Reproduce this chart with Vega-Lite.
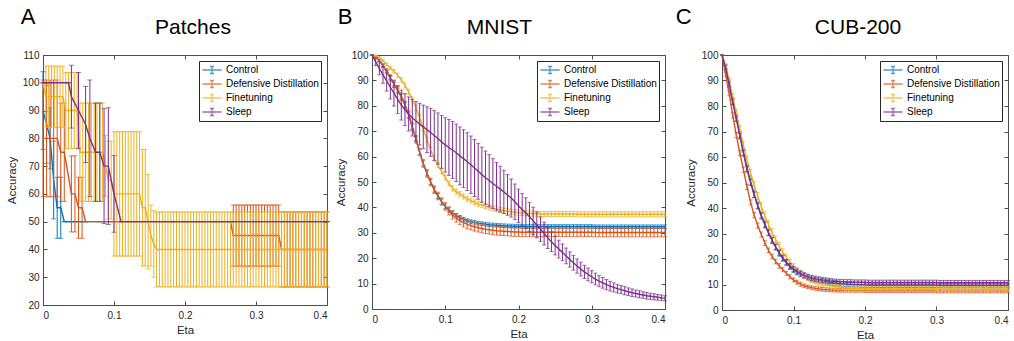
{
"$schema":"https://vega.github.io/schema/vega-lite/v6.json",
"padding":{"left":5,"top":5,"right":0,"bottom":0},
"config":{
"font":"Liberation Sans",
"view":{"stroke":"#4d4d4d","strokeWidth":1},
"axis":{"grid":false,"domainColor":"#4d4d4d","tickColor":"#4d4d4d","labelColor":"#262626","titleColor":"#262626","labelFontSize":10,"titleFontSize":11.5,"titleFontWeight":"normal","tickSize":-4,"labelFont":"Liberation Sans","titleFont":"Liberation Sans"},
"title":{"font":"Liberation Sans","fontSize":21,"fontWeight":"normal","color":"#000000","offset":12},
"line":{"strokeWidth":1.4}
},
"datasets":{
"A":[
{"s":"C","x":0,"y":90,"e":14},{"s":"C","x":0.005,"y":85,"e":14},{"s":"C","x":0.01,"y":80,"e":11},{"s":"C","x":0.015,"y":65,"e":14},{"s":"C","x":0.02,"y":55,"e":11},{"s":"C","x":0.025,"y":55,"e":11},{"s":"C","x":0.03,"y":50,"e":0},{"s":"C","x":0.035,"y":50,"e":0},{"s":"C","x":0.04,"y":50,"e":0},{"s":"C","x":0.045,"y":50,"e":0},{"s":"C","x":0.05,"y":50,"e":0},{"s":"C","x":0.055,"y":50,"e":0},{"s":"C","x":0.06,"y":50,"e":0},{"s":"C","x":0.4,"y":50,"e":0},
{"s":"D","x":0,"y":80,"e":21},{"s":"D","x":0.005,"y":80,"e":21},{"s":"D","x":0.01,"y":80,"e":21},{"s":"D","x":0.015,"y":80,"e":21},{"s":"D","x":0.02,"y":80,"e":21},{"s":"D","x":0.025,"y":75,"e":17.7},{"s":"D","x":0.03,"y":75,"e":17.7},{"s":"D","x":0.04,"y":60,"e":13.7},{"s":"D","x":0.045,"y":60,"e":13.7},{"s":"D","x":0.05,"y":55,"e":11},{"s":"D","x":0.055,"y":55,"e":11},{"s":"D","x":0.06,"y":50,"e":0},{"s":"D","x":0.08,"y":50,"e":0},{"s":"D","x":0.1,"y":50,"e":0},{"s":"D","x":0.12,"y":50,"e":0},{"s":"D","x":0.14,"y":50,"e":0},{"s":"D","x":0.16,"y":50,"e":0},{"s":"D","x":0.18,"y":50,"e":0},{"s":"D","x":0.2,"y":50,"e":0},{"s":"D","x":0.22,"y":50,"e":0},{"s":"D","x":0.24,"y":50,"e":0},{"s":"D","x":0.264,"y":50,"e":0},
{"s":"D","x":0.268,"y":45,"e":11},{"s":"D","x":0.272,"y":45,"e":11},{"s":"D","x":0.276,"y":45,"e":11},{"s":"D","x":0.28,"y":45,"e":11},{"s":"D","x":0.284,"y":45,"e":11},{"s":"D","x":0.288,"y":45,"e":11},{"s":"D","x":0.292,"y":45,"e":11},{"s":"D","x":0.296,"y":45,"e":11},{"s":"D","x":0.3,"y":45,"e":11},{"s":"D","x":0.304,"y":45,"e":11},{"s":"D","x":0.308,"y":45,"e":11},{"s":"D","x":0.312,"y":45,"e":11},{"s":"D","x":0.316,"y":45,"e":11},{"s":"D","x":0.32,"y":45,"e":11},{"s":"D","x":0.324,"y":45,"e":11},{"s":"D","x":0.328,"y":45,"e":11},{"s":"D","x":0.332,"y":45,"e":11},
{"s":"D","x":0.336,"y":40,"e":13.5},{"s":"D","x":0.34,"y":40,"e":13.5},{"s":"D","x":0.344,"y":40,"e":13.5},{"s":"D","x":0.348,"y":40,"e":13.5},{"s":"D","x":0.352,"y":40,"e":13.5},{"s":"D","x":0.356,"y":40,"e":13.5},{"s":"D","x":0.36,"y":40,"e":13.5},{"s":"D","x":0.364,"y":40,"e":13.5},{"s":"D","x":0.368,"y":40,"e":13.5},{"s":"D","x":0.372,"y":40,"e":13.5},{"s":"D","x":0.376,"y":40,"e":13.5},{"s":"D","x":0.38,"y":40,"e":13.5},{"s":"D","x":0.384,"y":40,"e":13.5},{"s":"D","x":0.388,"y":40,"e":13.5},{"s":"D","x":0.392,"y":40,"e":13.5},{"s":"D","x":0.396,"y":40,"e":13.5},{"s":"D","x":0.4,"y":40,"e":13.5},
{"s":"F","x":0,"y":100,"e":0},{"s":"F","x":0.004,"y":95,"e":11},{"s":"F","x":0.008,"y":95,"e":11},{"s":"F","x":0.012,"y":95,"e":11},{"s":"F","x":0.016,"y":95,"e":11},{"s":"F","x":0.02,"y":95,"e":11},{"s":"F","x":0.024,"y":95,"e":11},{"s":"F","x":0.028,"y":95,"e":11},
{"s":"F","x":0.032,"y":90,"e":13.7},{"s":"F","x":0.036,"y":90,"e":13.7},{"s":"F","x":0.04,"y":90,"e":13.7},{"s":"F","x":0.044,"y":90,"e":13.7},{"s":"F","x":0.048,"y":90,"e":13.7},
{"s":"F","x":0.052,"y":75,"e":17.7},{"s":"F","x":0.056,"y":75,"e":17.7},{"s":"F","x":0.06,"y":75,"e":17.7},{"s":"F","x":0.064,"y":75,"e":17.7},{"s":"F","x":0.068,"y":75,"e":17.7},{"s":"F","x":0.072,"y":75,"e":17.7},{"s":"F","x":0.076,"y":75,"e":17.7},{"s":"F","x":0.08,"y":75,"e":17.7},{"s":"F","x":0.084,"y":75,"e":17.7},
{"s":"F","x":0.088,"y":70,"e":11},{"s":"F","x":0.092,"y":65,"e":14},{"s":"F","x":0.096,"y":65,"e":14},
{"s":"F","x":0.1,"y":60,"e":22.4},{"s":"F","x":0.104,"y":60,"e":22.4},{"s":"F","x":0.108,"y":60,"e":22.4},{"s":"F","x":0.112,"y":60,"e":22.4},{"s":"F","x":0.116,"y":60,"e":22.4},{"s":"F","x":0.12,"y":60,"e":22.4},{"s":"F","x":0.124,"y":60,"e":22.4},{"s":"F","x":0.128,"y":60,"e":22.4},{"s":"F","x":0.132,"y":60,"e":22.4},{"s":"F","x":0.136,"y":60,"e":22.4},
{"s":"F","x":0.14,"y":55,"e":21},{"s":"F","x":0.144,"y":55,"e":21},{"s":"F","x":0.148,"y":50,"e":17},{"s":"F","x":0.152,"y":45,"e":11},{"s":"F","x":0.156,"y":42,"e":12},
{"s":"F","x":0.16,"y":40,"e":13.5},{"s":"F","x":0.164,"y":40,"e":13.5},{"s":"F","x":0.168,"y":40,"e":13.5},{"s":"F","x":0.172,"y":40,"e":13.5},{"s":"F","x":0.176,"y":40,"e":13.5},{"s":"F","x":0.18,"y":40,"e":13.5},{"s":"F","x":0.184,"y":40,"e":13.5},{"s":"F","x":0.188,"y":40,"e":13.5},{"s":"F","x":0.192,"y":40,"e":13.5},{"s":"F","x":0.196,"y":40,"e":13.5},{"s":"F","x":0.2,"y":40,"e":13.5},{"s":"F","x":0.204,"y":40,"e":13.5},{"s":"F","x":0.208,"y":40,"e":13.5},{"s":"F","x":0.212,"y":40,"e":13.5},{"s":"F","x":0.216,"y":40,"e":13.5},{"s":"F","x":0.22,"y":40,"e":13.5},{"s":"F","x":0.224,"y":40,"e":13.5},{"s":"F","x":0.228,"y":40,"e":13.5},{"s":"F","x":0.232,"y":40,"e":13.5},{"s":"F","x":0.236,"y":40,"e":13.5},{"s":"F","x":0.24,"y":40,"e":13.5},{"s":"F","x":0.244,"y":40,"e":13.5},{"s":"F","x":0.248,"y":40,"e":13.5},{"s":"F","x":0.252,"y":40,"e":13.5},{"s":"F","x":0.256,"y":40,"e":13.5},{"s":"F","x":0.26,"y":40,"e":13.5},{"s":"F","x":0.264,"y":40,"e":13.5},{"s":"F","x":0.268,"y":40,"e":13.5},{"s":"F","x":0.272,"y":40,"e":13.5},{"s":"F","x":0.276,"y":40,"e":13.5},{"s":"F","x":0.28,"y":40,"e":13.5},{"s":"F","x":0.284,"y":40,"e":13.5},{"s":"F","x":0.288,"y":40,"e":13.5},{"s":"F","x":0.292,"y":40,"e":13.5},{"s":"F","x":0.296,"y":40,"e":13.5},{"s":"F","x":0.3,"y":40,"e":13.5},{"s":"F","x":0.304,"y":40,"e":13.5},{"s":"F","x":0.308,"y":40,"e":13.5},{"s":"F","x":0.312,"y":40,"e":13.5},{"s":"F","x":0.316,"y":40,"e":13.5},{"s":"F","x":0.32,"y":40,"e":13.5},{"s":"F","x":0.324,"y":40,"e":13.5},{"s":"F","x":0.328,"y":40,"e":13.5},{"s":"F","x":0.332,"y":40,"e":13.5},{"s":"F","x":0.336,"y":40,"e":13.5},{"s":"F","x":0.34,"y":40,"e":13.5},{"s":"F","x":0.344,"y":40,"e":13.5},{"s":"F","x":0.348,"y":40,"e":13.5},{"s":"F","x":0.352,"y":40,"e":13.5},{"s":"F","x":0.356,"y":40,"e":13.5},{"s":"F","x":0.36,"y":40,"e":13.5},{"s":"F","x":0.364,"y":40,"e":13.5},{"s":"F","x":0.368,"y":40,"e":13.5},{"s":"F","x":0.372,"y":40,"e":13.5},{"s":"F","x":0.376,"y":40,"e":13.5},{"s":"F","x":0.38,"y":40,"e":13.5},{"s":"F","x":0.384,"y":40,"e":13.5},{"s":"F","x":0.388,"y":40,"e":13.5},{"s":"F","x":0.392,"y":40,"e":13.5},{"s":"F","x":0.396,"y":40,"e":13.5},{"s":"F","x":0.4,"y":40,"e":13.5},
{"s":"S","x":0,"y":100,"e":0},{"s":"S","x":0.036,"y":100,"e":0},{"s":"S","x":0.04,"y":95,"e":11.3},{"s":"S","x":0.05,"y":90,"e":13.7},{"s":"S","x":0.06,"y":85,"e":13.7},{"s":"S","x":0.066,"y":80,"e":21},{"s":"S","x":0.074,"y":75,"e":17.7},{"s":"S","x":0.08,"y":75,"e":17.7},{"s":"S","x":0.086,"y":70,"e":20.7},{"s":"S","x":0.092,"y":70,"e":21},{"s":"S","x":0.1,"y":60,"e":13.8},{"s":"S","x":0.11,"y":50,"e":0},{"s":"S","x":0.4,"y":50,"e":0}
],
"B":[
{"s":"C","x":0,"y":100,"e":0},{"s":"C","x":0.005,"y":99.3,"e":0.2},{"s":"C","x":0.01,"y":97.8,"e":0.3},{"s":"C","x":0.015,"y":95.8,"e":0.4},{"s":"C","x":0.02,"y":93.6,"e":0.5},{"s":"C","x":0.025,"y":91,"e":0.6},{"s":"C","x":0.03,"y":88.5,"e":0.7},{"s":"C","x":0.035,"y":86.2,"e":0.8},{"s":"C","x":0.04,"y":83.6,"e":0.9},{"s":"C","x":0.045,"y":80.3,"e":1},{"s":"C","x":0.05,"y":76.5,"e":1},{"s":"C","x":0.055,"y":71.8,"e":1},{"s":"C","x":0.06,"y":66.8,"e":1},{"s":"C","x":0.065,"y":61.8,"e":1},{"s":"C","x":0.07,"y":57.3,"e":1},{"s":"C","x":0.075,"y":53.4,"e":1},{"s":"C","x":0.08,"y":50,"e":1},{"s":"C","x":0.085,"y":47,"e":1},{"s":"C","x":0.09,"y":44.5,"e":1},{"s":"C","x":0.095,"y":42.3,"e":1},{"s":"C","x":0.1,"y":40.4,"e":0.9},{"s":"C","x":0.105,"y":39,"e":0.9},{"s":"C","x":0.11,"y":37.8,"e":0.8},{"s":"C","x":0.115,"y":36.8,"e":0.8},{"s":"C","x":0.12,"y":36,"e":0.8},{"s":"C","x":0.125,"y":35.3,"e":0.8},{"s":"C","x":0.13,"y":34.8,"e":0.7},{"s":"C","x":0.135,"y":34.4,"e":0.7},{"s":"C","x":0.14,"y":34.1,"e":0.7},{"s":"C","x":0.145,"y":33.8,"e":0.7},{"s":"C","x":0.15,"y":33.6,"e":0.7},{"s":"C","x":0.155,"y":33.4,"e":0.7},{"s":"C","x":0.16,"y":33.2,"e":0.7},{"s":"C","x":0.165,"y":33.1,"e":0.7},{"s":"C","x":0.17,"y":33,"e":0.7},{"s":"C","x":0.175,"y":32.9,"e":0.7},{"s":"C","x":0.18,"y":32.8,"e":0.7},{"s":"C","x":0.185,"y":32.7,"e":0.7},{"s":"C","x":0.19,"y":32.7,"e":0.7},{"s":"C","x":0.195,"y":32.6,"e":0.7},{"s":"C","x":0.2,"y":32.6,"e":0.7},{"s":"C","x":0.205,"y":32.5,"e":0.7},{"s":"C","x":0.21,"y":32.5,"e":0.7},{"s":"C","x":0.215,"y":32.5,"e":0.7},{"s":"C","x":0.22,"y":32.5,"e":0.7},{"s":"C","x":0.225,"y":32.5,"e":0.7},{"s":"C","x":0.23,"y":32.5,"e":0.7},{"s":"C","x":0.235,"y":32.5,"e":0.7},{"s":"C","x":0.24,"y":32.5,"e":0.7},{"s":"C","x":0.245,"y":32.5,"e":0.7},{"s":"C","x":0.25,"y":32.5,"e":0.7},{"s":"C","x":0.255,"y":32.5,"e":0.7},{"s":"C","x":0.26,"y":32.5,"e":0.7},{"s":"C","x":0.265,"y":32.5,"e":0.7},{"s":"C","x":0.27,"y":32.5,"e":0.7},{"s":"C","x":0.275,"y":32.5,"e":0.7},{"s":"C","x":0.28,"y":32.5,"e":0.7},{"s":"C","x":0.285,"y":32.5,"e":0.7},{"s":"C","x":0.29,"y":32.5,"e":0.7},{"s":"C","x":0.295,"y":32.5,"e":0.7},{"s":"C","x":0.3,"y":32.5,"e":0.7},{"s":"C","x":0.305,"y":32.4,"e":0.7},{"s":"C","x":0.31,"y":32.4,"e":0.7},{"s":"C","x":0.315,"y":32.4,"e":0.7},{"s":"C","x":0.32,"y":32.4,"e":0.7},{"s":"C","x":0.325,"y":32.4,"e":0.7},{"s":"C","x":0.33,"y":32.4,"e":0.7},{"s":"C","x":0.335,"y":32.4,"e":0.7},{"s":"C","x":0.34,"y":32.4,"e":0.7},{"s":"C","x":0.345,"y":32.4,"e":0.7},{"s":"C","x":0.35,"y":32.4,"e":0.7},{"s":"C","x":0.355,"y":32.4,"e":0.7},{"s":"C","x":0.36,"y":32.4,"e":0.7},{"s":"C","x":0.365,"y":32.4,"e":0.7},{"s":"C","x":0.37,"y":32.4,"e":0.7},{"s":"C","x":0.375,"y":32.4,"e":0.7},{"s":"C","x":0.38,"y":32.4,"e":0.7},{"s":"C","x":0.385,"y":32.4,"e":0.7},{"s":"C","x":0.39,"y":32.4,"e":0.7},{"s":"C","x":0.395,"y":32.4,"e":0.7},{"s":"C","x":0.4,"y":32.4,"e":0.7},
{"s":"D","x":0,"y":100,"e":0},{"s":"D","x":0.005,"y":99.3,"e":0.3},{"s":"D","x":0.01,"y":97.8,"e":0.5},{"s":"D","x":0.015,"y":95.8,"e":0.8},{"s":"D","x":0.02,"y":93.6,"e":1},{"s":"D","x":0.025,"y":91,"e":1.2},{"s":"D","x":0.03,"y":88.5,"e":1.3},{"s":"D","x":0.035,"y":86.2,"e":1.4},{"s":"D","x":0.04,"y":83.6,"e":1.5},{"s":"D","x":0.045,"y":80.3,"e":1.5},{"s":"D","x":0.05,"y":76.5,"e":1.5},{"s":"D","x":0.055,"y":71.8,"e":1.5},{"s":"D","x":0.06,"y":66.8,"e":1.5},{"s":"D","x":0.065,"y":61.8,"e":1.5},{"s":"D","x":0.07,"y":57.3,"e":1.5},{"s":"D","x":0.075,"y":53.4,"e":1.5},{"s":"D","x":0.08,"y":50,"e":1.5},{"s":"D","x":0.085,"y":47,"e":1.5},{"s":"D","x":0.09,"y":44.5,"e":1.5},{"s":"D","x":0.095,"y":42.3,"e":1.5},{"s":"D","x":0.1,"y":40.4,"e":1.5},{"s":"D","x":0.105,"y":38.6,"e":1.6},{"s":"D","x":0.11,"y":37,"e":1.6},{"s":"D","x":0.115,"y":35.8,"e":1.6},{"s":"D","x":0.12,"y":34.8,"e":1.6},{"s":"D","x":0.125,"y":34,"e":1.7},{"s":"D","x":0.13,"y":33.3,"e":1.7},{"s":"D","x":0.135,"y":32.8,"e":1.7},{"s":"D","x":0.14,"y":32.4,"e":1.7},{"s":"D","x":0.145,"y":32,"e":1.7},{"s":"D","x":0.15,"y":31.7,"e":1.7},{"s":"D","x":0.155,"y":31.4,"e":1.7},{"s":"D","x":0.16,"y":31.2,"e":1.7},{"s":"D","x":0.165,"y":31,"e":1.7},{"s":"D","x":0.17,"y":30.8,"e":1.7},{"s":"D","x":0.175,"y":30.7,"e":1.7},{"s":"D","x":0.18,"y":30.6,"e":1.7},{"s":"D","x":0.185,"y":30.5,"e":1.7},{"s":"D","x":0.19,"y":30.4,"e":1.7},{"s":"D","x":0.195,"y":30.3,"e":1.7},{"s":"D","x":0.2,"y":30.3,"e":1.7},{"s":"D","x":0.205,"y":30.2,"e":1.7},{"s":"D","x":0.21,"y":30.2,"e":1.7},{"s":"D","x":0.215,"y":30.2,"e":1.7},{"s":"D","x":0.22,"y":30.2,"e":1.7},{"s":"D","x":0.225,"y":30.2,"e":1.7},{"s":"D","x":0.23,"y":30.2,"e":1.7},{"s":"D","x":0.235,"y":30.2,"e":1.7},{"s":"D","x":0.24,"y":30.2,"e":1.7},{"s":"D","x":0.245,"y":30.2,"e":1.7},{"s":"D","x":0.25,"y":30.2,"e":1.7},{"s":"D","x":0.255,"y":30.2,"e":1.7},{"s":"D","x":0.26,"y":30.2,"e":1.7},{"s":"D","x":0.265,"y":30.2,"e":1.7},{"s":"D","x":0.27,"y":30.2,"e":1.7},{"s":"D","x":0.275,"y":30.2,"e":1.7},{"s":"D","x":0.28,"y":30.2,"e":1.7},{"s":"D","x":0.285,"y":30.2,"e":1.7},{"s":"D","x":0.29,"y":30.2,"e":1.7},{"s":"D","x":0.295,"y":30.2,"e":1.7},{"s":"D","x":0.3,"y":30.2,"e":1.7},{"s":"D","x":0.305,"y":30.1,"e":1.7},{"s":"D","x":0.31,"y":30.1,"e":1.7},{"s":"D","x":0.315,"y":30.1,"e":1.7},{"s":"D","x":0.32,"y":30.1,"e":1.7},{"s":"D","x":0.325,"y":30.1,"e":1.7},{"s":"D","x":0.33,"y":30.1,"e":1.7},{"s":"D","x":0.335,"y":30.1,"e":1.7},{"s":"D","x":0.34,"y":30.1,"e":1.7},{"s":"D","x":0.345,"y":30.1,"e":1.7},{"s":"D","x":0.35,"y":30.1,"e":1.7},{"s":"D","x":0.355,"y":30.1,"e":1.7},{"s":"D","x":0.36,"y":30.1,"e":1.7},{"s":"D","x":0.365,"y":30.1,"e":1.7},{"s":"D","x":0.37,"y":30.1,"e":1.7},{"s":"D","x":0.375,"y":30.1,"e":1.7},{"s":"D","x":0.38,"y":30.1,"e":1.7},{"s":"D","x":0.385,"y":30.1,"e":1.7},{"s":"D","x":0.39,"y":30.1,"e":1.7},{"s":"D","x":0.395,"y":30.1,"e":1.7},{"s":"D","x":0.4,"y":30.1,"e":1.7},
{"s":"F","x":0,"y":100,"e":0},{"s":"F","x":0.005,"y":99.7,"e":0.2},{"s":"F","x":0.01,"y":99,"e":0.3},{"s":"F","x":0.015,"y":97.8,"e":0.4},{"s":"F","x":0.02,"y":96.3,"e":0.5},{"s":"F","x":0.025,"y":94.9,"e":0.6},{"s":"F","x":0.03,"y":93.6,"e":0.7},{"s":"F","x":0.035,"y":92,"e":0.8},{"s":"F","x":0.04,"y":90.2,"e":0.9},{"s":"F","x":0.045,"y":88,"e":1},{"s":"F","x":0.05,"y":85.5,"e":1},{"s":"F","x":0.055,"y":82.5,"e":1},{"s":"F","x":0.06,"y":79.3,"e":1},{"s":"F","x":0.065,"y":75.3,"e":1},{"s":"F","x":0.07,"y":71,"e":1},{"s":"F","x":0.075,"y":66.6,"e":1},{"s":"F","x":0.08,"y":62.5,"e":1},{"s":"F","x":0.085,"y":59.3,"e":1},{"s":"F","x":0.09,"y":56.6,"e":1},{"s":"F","x":0.095,"y":54.2,"e":1},{"s":"F","x":0.1,"y":51.8,"e":1},{"s":"F","x":0.105,"y":49.4,"e":1},{"s":"F","x":0.11,"y":47.5,"e":1},{"s":"F","x":0.115,"y":46.2,"e":1},{"s":"F","x":0.12,"y":45.2,"e":1},{"s":"F","x":0.125,"y":44.3,"e":1},{"s":"F","x":0.13,"y":43.4,"e":1},{"s":"F","x":0.135,"y":42.7,"e":1},{"s":"F","x":0.14,"y":42,"e":1},{"s":"F","x":0.145,"y":41.4,"e":1},{"s":"F","x":0.15,"y":40.9,"e":1},{"s":"F","x":0.155,"y":40.4,"e":1},{"s":"F","x":0.16,"y":40,"e":1},{"s":"F","x":0.165,"y":39.6,"e":1},{"s":"F","x":0.17,"y":39.3,"e":1},{"s":"F","x":0.175,"y":39,"e":1},{"s":"F","x":0.18,"y":38.7,"e":1},{"s":"F","x":0.185,"y":38.5,"e":1},{"s":"F","x":0.19,"y":38.3,"e":1},{"s":"F","x":0.195,"y":38.1,"e":1},{"s":"F","x":0.2,"y":37.9,"e":1},{"s":"F","x":0.205,"y":37.8,"e":1},{"s":"F","x":0.21,"y":37.7,"e":1},{"s":"F","x":0.215,"y":37.6,"e":1},{"s":"F","x":0.22,"y":37.6,"e":1},{"s":"F","x":0.225,"y":37.5,"e":1},{"s":"F","x":0.23,"y":37.4,"e":1},{"s":"F","x":0.235,"y":37.4,"e":1},{"s":"F","x":0.24,"y":37.4,"e":1},{"s":"F","x":0.245,"y":37.4,"e":1},{"s":"F","x":0.25,"y":37.4,"e":1},{"s":"F","x":0.255,"y":37.4,"e":1},{"s":"F","x":0.26,"y":37.4,"e":1},{"s":"F","x":0.265,"y":37.4,"e":1},{"s":"F","x":0.27,"y":37.4,"e":1},{"s":"F","x":0.275,"y":37.4,"e":1},{"s":"F","x":0.28,"y":37.3,"e":1},{"s":"F","x":0.285,"y":37.3,"e":1},{"s":"F","x":0.29,"y":37.3,"e":1},{"s":"F","x":0.295,"y":37.3,"e":1},{"s":"F","x":0.3,"y":37.3,"e":1},{"s":"F","x":0.305,"y":37.3,"e":1},{"s":"F","x":0.31,"y":37.3,"e":1},{"s":"F","x":0.315,"y":37.3,"e":1},{"s":"F","x":0.32,"y":37.3,"e":1},{"s":"F","x":0.325,"y":37.3,"e":1},{"s":"F","x":0.33,"y":37.3,"e":1},{"s":"F","x":0.335,"y":37.3,"e":1},{"s":"F","x":0.34,"y":37.3,"e":1},{"s":"F","x":0.345,"y":37.3,"e":1},{"s":"F","x":0.35,"y":37.3,"e":1},{"s":"F","x":0.355,"y":37.3,"e":1},{"s":"F","x":0.36,"y":37.3,"e":1},{"s":"F","x":0.365,"y":37.3,"e":1},{"s":"F","x":0.37,"y":37.3,"e":1},{"s":"F","x":0.375,"y":37.3,"e":1},{"s":"F","x":0.38,"y":37.3,"e":1},{"s":"F","x":0.385,"y":37.3,"e":1},{"s":"F","x":0.39,"y":37.3,"e":1},{"s":"F","x":0.395,"y":37.3,"e":1},{"s":"F","x":0.4,"y":37.3,"e":1},
{"s":"S","x":0,"y":100,"e":0},{"s":"S","x":0.005,"y":97.3,"e":1.5},{"s":"S","x":0.01,"y":94.7,"e":2.5},{"s":"S","x":0.015,"y":92.2,"e":3.3},{"s":"S","x":0.02,"y":89.8,"e":4},{"s":"S","x":0.025,"y":87.3,"e":4.6},{"s":"S","x":0.03,"y":85,"e":5.1},{"s":"S","x":0.035,"y":82.5,"e":5.5},{"s":"S","x":0.04,"y":80.3,"e":5.9},{"s":"S","x":0.045,"y":78.5,"e":6.3},{"s":"S","x":0.05,"y":76.8,"e":6.7},{"s":"S","x":0.055,"y":75.3,"e":7.2},{"s":"S","x":0.06,"y":74,"e":7.7},{"s":"S","x":0.065,"y":72.8,"e":8.2},{"s":"S","x":0.07,"y":71.7,"e":8.6},{"s":"S","x":0.075,"y":70.6,"e":9},{"s":"S","x":0.08,"y":69.5,"e":9.4},{"s":"S","x":0.085,"y":68.3,"e":9.8},{"s":"S","x":0.09,"y":67.1,"e":10.1},{"s":"S","x":0.095,"y":65.8,"e":10.4},{"s":"S","x":0.1,"y":64.6,"e":10.7},{"s":"S","x":0.105,"y":63.6,"e":11},{"s":"S","x":0.11,"y":62.6,"e":11.2},{"s":"S","x":0.115,"y":61.5,"e":11.3},{"s":"S","x":0.12,"y":60.3,"e":11.4},{"s":"S","x":0.125,"y":59.2,"e":11.4},{"s":"S","x":0.13,"y":58,"e":11.4},{"s":"S","x":0.135,"y":56.8,"e":11.3},{"s":"S","x":0.14,"y":55.5,"e":11.2},{"s":"S","x":0.145,"y":54.2,"e":11},{"s":"S","x":0.15,"y":52.9,"e":10.8},{"s":"S","x":0.155,"y":51.7,"e":10.5},{"s":"S","x":0.16,"y":50.6,"e":10.2},{"s":"S","x":0.165,"y":49.4,"e":9.8},{"s":"S","x":0.17,"y":48.3,"e":9.4},{"s":"S","x":0.175,"y":47.2,"e":9},{"s":"S","x":0.18,"y":46.1,"e":8.5},{"s":"S","x":0.185,"y":44.9,"e":8},{"s":"S","x":0.19,"y":43.7,"e":7.5},{"s":"S","x":0.195,"y":42.2,"e":7},{"s":"S","x":0.2,"y":40.6,"e":6.6},{"s":"S","x":0.205,"y":39.2,"e":6.3},{"s":"S","x":0.21,"y":37.8,"e":6},{"s":"S","x":0.215,"y":36.3,"e":5.7},{"s":"S","x":0.22,"y":34.7,"e":5.4},{"s":"S","x":0.225,"y":33.1,"e":5.1},{"s":"S","x":0.23,"y":31.4,"e":4.8},{"s":"S","x":0.235,"y":29.7,"e":4.5},{"s":"S","x":0.24,"y":28,"e":4.2},{"s":"S","x":0.245,"y":26.5,"e":3.9},{"s":"S","x":0.25,"y":25,"e":3.7},{"s":"S","x":0.255,"y":23.6,"e":3.5},{"s":"S","x":0.26,"y":22.3,"e":3.3},{"s":"S","x":0.265,"y":20.9,"e":3.1},{"s":"S","x":0.27,"y":19.5,"e":3},{"s":"S","x":0.275,"y":18.2,"e":2.9},{"s":"S","x":0.28,"y":16.9,"e":2.8},{"s":"S","x":0.285,"y":15.7,"e":2.7},{"s":"S","x":0.29,"y":14.6,"e":2.6},{"s":"S","x":0.295,"y":13.6,"e":2.5},{"s":"S","x":0.3,"y":12.7,"e":2.4},{"s":"S","x":0.305,"y":11.8,"e":2.3},{"s":"S","x":0.31,"y":11,"e":2.2},{"s":"S","x":0.315,"y":10.3,"e":2.1},{"s":"S","x":0.32,"y":9.6,"e":2},{"s":"S","x":0.325,"y":9,"e":1.9},{"s":"S","x":0.33,"y":8.5,"e":1.8},{"s":"S","x":0.335,"y":8,"e":1.7},{"s":"S","x":0.34,"y":7.6,"e":1.6},{"s":"S","x":0.345,"y":7.2,"e":1.6},{"s":"S","x":0.35,"y":6.8,"e":1.5},{"s":"S","x":0.355,"y":6.4,"e":1.5},{"s":"S","x":0.36,"y":6.1,"e":1.4},{"s":"S","x":0.365,"y":5.8,"e":1.4},{"s":"S","x":0.37,"y":5.5,"e":1.3},{"s":"S","x":0.375,"y":5.2,"e":1.3},{"s":"S","x":0.38,"y":5,"e":1.2},{"s":"S","x":0.385,"y":4.8,"e":1.2},{"s":"S","x":0.39,"y":4.6,"e":1.1},{"s":"S","x":0.395,"y":4.4,"e":1.1},{"s":"S","x":0.4,"y":4.2,"e":1}
],
"C":[
{"s":"C","x":0,"y":100,"e":0},{"s":"C","x":0.005,"y":95.5,"e":0.8},{"s":"C","x":0.01,"y":89,"e":1.2},{"s":"C","x":0.015,"y":82,"e":1.3},{"s":"C","x":0.02,"y":75.5,"e":1.3},{"s":"C","x":0.025,"y":68.7,"e":1.3},{"s":"C","x":0.03,"y":61.9,"e":1.3},{"s":"C","x":0.035,"y":55.5,"e":1.3},{"s":"C","x":0.04,"y":50.2,"e":1.3},{"s":"C","x":0.045,"y":45.4,"e":1.3},{"s":"C","x":0.05,"y":41.1,"e":1.2},{"s":"C","x":0.055,"y":37.2,"e":1.2},{"s":"C","x":0.06,"y":33.7,"e":1.2},{"s":"C","x":0.065,"y":30.5,"e":1.2},{"s":"C","x":0.07,"y":27.4,"e":1.2},{"s":"C","x":0.075,"y":24.6,"e":1.1},{"s":"C","x":0.08,"y":22.2,"e":1.1},{"s":"C","x":0.085,"y":20.2,"e":1.1},{"s":"C","x":0.09,"y":18.4,"e":1},{"s":"C","x":0.095,"y":16.9,"e":1},{"s":"C","x":0.1,"y":15.7,"e":1},{"s":"C","x":0.105,"y":14.8,"e":1},{"s":"C","x":0.11,"y":14,"e":1},{"s":"C","x":0.115,"y":13.4,"e":1},{"s":"C","x":0.12,"y":12.8,"e":1},{"s":"C","x":0.125,"y":12.3,"e":1},{"s":"C","x":0.13,"y":11.9,"e":1},{"s":"C","x":0.135,"y":11.6,"e":1},{"s":"C","x":0.14,"y":11.3,"e":1},{"s":"C","x":0.145,"y":11.1,"e":1},{"s":"C","x":0.15,"y":10.9,"e":1},{"s":"C","x":0.155,"y":10.7,"e":1},{"s":"C","x":0.16,"y":10.5,"e":1},{"s":"C","x":0.165,"y":10.3,"e":0.9},{"s":"C","x":0.17,"y":10.2,"e":0.9},{"s":"C","x":0.175,"y":10.1,"e":0.9},{"s":"C","x":0.18,"y":10,"e":0.9},{"s":"C","x":0.185,"y":9.9,"e":0.9},{"s":"C","x":0.19,"y":9.9,"e":0.9},{"s":"C","x":0.195,"y":9.8,"e":0.9},{"s":"C","x":0.2,"y":9.8,"e":0.9},{"s":"C","x":0.205,"y":9.7,"e":0.9},{"s":"C","x":0.21,"y":9.7,"e":0.9},{"s":"C","x":0.215,"y":9.7,"e":0.9},{"s":"C","x":0.22,"y":9.7,"e":0.9},{"s":"C","x":0.225,"y":9.7,"e":0.9},{"s":"C","x":0.23,"y":9.7,"e":0.9},{"s":"C","x":0.235,"y":9.7,"e":0.9},{"s":"C","x":0.24,"y":9.7,"e":0.9},{"s":"C","x":0.245,"y":9.7,"e":0.9},{"s":"C","x":0.25,"y":9.7,"e":0.9},{"s":"C","x":0.255,"y":9.7,"e":0.9},{"s":"C","x":0.26,"y":9.7,"e":0.9},{"s":"C","x":0.265,"y":9.7,"e":0.9},{"s":"C","x":0.27,"y":9.7,"e":0.9},{"s":"C","x":0.275,"y":9.7,"e":0.9},{"s":"C","x":0.28,"y":9.7,"e":0.9},{"s":"C","x":0.285,"y":9.7,"e":0.9},{"s":"C","x":0.29,"y":9.7,"e":0.9},{"s":"C","x":0.295,"y":9.7,"e":0.9},{"s":"C","x":0.3,"y":9.7,"e":0.9},{"s":"C","x":0.305,"y":9.6,"e":0.9},{"s":"C","x":0.31,"y":9.6,"e":0.9},{"s":"C","x":0.315,"y":9.6,"e":0.9},{"s":"C","x":0.32,"y":9.6,"e":0.9},{"s":"C","x":0.325,"y":9.6,"e":0.9},{"s":"C","x":0.33,"y":9.6,"e":0.9},{"s":"C","x":0.335,"y":9.6,"e":0.9},{"s":"C","x":0.34,"y":9.6,"e":0.9},{"s":"C","x":0.345,"y":9.6,"e":0.9},{"s":"C","x":0.35,"y":9.6,"e":0.9},{"s":"C","x":0.355,"y":9.6,"e":0.9},{"s":"C","x":0.36,"y":9.6,"e":0.9},{"s":"C","x":0.365,"y":9.6,"e":0.9},{"s":"C","x":0.37,"y":9.6,"e":0.9},{"s":"C","x":0.375,"y":9.6,"e":0.9},{"s":"C","x":0.38,"y":9.6,"e":0.9},{"s":"C","x":0.385,"y":9.6,"e":0.9},{"s":"C","x":0.39,"y":9.6,"e":0.9},{"s":"C","x":0.395,"y":9.6,"e":0.9},{"s":"C","x":0.4,"y":9.6,"e":0.9},
{"s":"D","x":0,"y":100,"e":0},{"s":"D","x":0.005,"y":92.5,"e":0.8},{"s":"D","x":0.01,"y":85,"e":1},{"s":"D","x":0.015,"y":76.3,"e":1},{"s":"D","x":0.02,"y":68.6,"e":1},{"s":"D","x":0.025,"y":61.5,"e":1},{"s":"D","x":0.03,"y":55,"e":1},{"s":"D","x":0.035,"y":48.3,"e":1},{"s":"D","x":0.04,"y":42.2,"e":1},{"s":"D","x":0.045,"y":37.2,"e":1},{"s":"D","x":0.05,"y":33.1,"e":1},{"s":"D","x":0.055,"y":29.6,"e":1},{"s":"D","x":0.06,"y":26.3,"e":1},{"s":"D","x":0.065,"y":23.4,"e":0.9},{"s":"D","x":0.07,"y":21,"e":0.9},{"s":"D","x":0.075,"y":19,"e":0.9},{"s":"D","x":0.08,"y":17.3,"e":0.9},{"s":"D","x":0.085,"y":15.8,"e":0.8},{"s":"D","x":0.09,"y":14.4,"e":0.8},{"s":"D","x":0.095,"y":13,"e":0.8},{"s":"D","x":0.1,"y":11.8,"e":0.8},{"s":"D","x":0.105,"y":10.9,"e":0.8},{"s":"D","x":0.11,"y":10.1,"e":0.8},{"s":"D","x":0.115,"y":9.5,"e":0.7},{"s":"D","x":0.12,"y":9.1,"e":0.7},{"s":"D","x":0.125,"y":8.8,"e":0.7},{"s":"D","x":0.13,"y":8.5,"e":0.7},{"s":"D","x":0.135,"y":8.3,"e":0.7},{"s":"D","x":0.14,"y":8.1,"e":0.7},{"s":"D","x":0.145,"y":8,"e":0.7},{"s":"D","x":0.15,"y":7.9,"e":0.7},{"s":"D","x":0.155,"y":7.8,"e":0.7},{"s":"D","x":0.16,"y":7.8,"e":0.7},{"s":"D","x":0.165,"y":7.7,"e":0.7},{"s":"D","x":0.17,"y":7.7,"e":0.7},{"s":"D","x":0.175,"y":7.7,"e":0.7},{"s":"D","x":0.18,"y":7.7,"e":0.7},{"s":"D","x":0.185,"y":7.7,"e":0.7},{"s":"D","x":0.19,"y":7.7,"e":0.7},{"s":"D","x":0.195,"y":7.7,"e":0.7},{"s":"D","x":0.2,"y":7.6,"e":0.7},{"s":"D","x":0.205,"y":7.5,"e":0.7},{"s":"D","x":0.21,"y":7.5,"e":0.7},{"s":"D","x":0.215,"y":7.5,"e":0.7},{"s":"D","x":0.22,"y":7.5,"e":0.7},{"s":"D","x":0.225,"y":7.5,"e":0.7},{"s":"D","x":0.23,"y":7.5,"e":0.7},{"s":"D","x":0.235,"y":7.5,"e":0.7},{"s":"D","x":0.24,"y":7.5,"e":0.7},{"s":"D","x":0.245,"y":7.5,"e":0.7},{"s":"D","x":0.25,"y":7.5,"e":0.7},{"s":"D","x":0.255,"y":7.5,"e":0.7},{"s":"D","x":0.26,"y":7.5,"e":0.7},{"s":"D","x":0.265,"y":7.5,"e":0.7},{"s":"D","x":0.27,"y":7.5,"e":0.7},{"s":"D","x":0.275,"y":7.5,"e":0.7},{"s":"D","x":0.28,"y":7.5,"e":0.7},{"s":"D","x":0.285,"y":7.5,"e":0.7},{"s":"D","x":0.29,"y":7.5,"e":0.7},{"s":"D","x":0.295,"y":7.5,"e":0.7},{"s":"D","x":0.3,"y":7.4,"e":0.7},{"s":"D","x":0.305,"y":7.4,"e":0.7},{"s":"D","x":0.31,"y":7.4,"e":0.7},{"s":"D","x":0.315,"y":7.4,"e":0.7},{"s":"D","x":0.32,"y":7.4,"e":0.7},{"s":"D","x":0.325,"y":7.4,"e":0.7},{"s":"D","x":0.33,"y":7.4,"e":0.7},{"s":"D","x":0.335,"y":7.4,"e":0.7},{"s":"D","x":0.34,"y":7.4,"e":0.7},{"s":"D","x":0.345,"y":7.4,"e":0.7},{"s":"D","x":0.35,"y":7.4,"e":0.7},{"s":"D","x":0.355,"y":7.4,"e":0.7},{"s":"D","x":0.36,"y":7.4,"e":0.7},{"s":"D","x":0.365,"y":7.4,"e":0.7},{"s":"D","x":0.37,"y":7.4,"e":0.7},{"s":"D","x":0.375,"y":7.4,"e":0.7},{"s":"D","x":0.38,"y":7.4,"e":0.7},{"s":"D","x":0.385,"y":7.4,"e":0.7},{"s":"D","x":0.39,"y":7.4,"e":0.7},{"s":"D","x":0.395,"y":7.4,"e":0.7},{"s":"D","x":0.4,"y":7.4,"e":0.7},
{"s":"F","x":0,"y":100,"e":0},{"s":"F","x":0.005,"y":95.7,"e":0.8},{"s":"F","x":0.01,"y":90,"e":1.2},{"s":"F","x":0.015,"y":83.5,"e":1.4},{"s":"F","x":0.02,"y":77.2,"e":1.5},{"s":"F","x":0.025,"y":70.8,"e":1.5},{"s":"F","x":0.03,"y":64.6,"e":1.5},{"s":"F","x":0.035,"y":58.8,"e":1.5},{"s":"F","x":0.04,"y":53.6,"e":1.5},{"s":"F","x":0.045,"y":48.9,"e":1.5},{"s":"F","x":0.05,"y":44.6,"e":1.5},{"s":"F","x":0.055,"y":40.6,"e":1.5},{"s":"F","x":0.06,"y":36.9,"e":1.5},{"s":"F","x":0.065,"y":33.5,"e":1.5},{"s":"F","x":0.07,"y":30.4,"e":1.5},{"s":"F","x":0.075,"y":27.6,"e":1.4},{"s":"F","x":0.08,"y":25,"e":1.4},{"s":"F","x":0.085,"y":22.7,"e":1.3},{"s":"F","x":0.09,"y":20.6,"e":1.3},{"s":"F","x":0.095,"y":18.7,"e":1.2},{"s":"F","x":0.1,"y":17,"e":1.2},{"s":"F","x":0.105,"y":15.6,"e":1.1},{"s":"F","x":0.11,"y":14.4,"e":1.1},{"s":"F","x":0.115,"y":13.4,"e":1},{"s":"F","x":0.12,"y":12.5,"e":1},{"s":"F","x":0.125,"y":11.8,"e":1},{"s":"F","x":0.13,"y":11.2,"e":1},{"s":"F","x":0.135,"y":10.7,"e":1},{"s":"F","x":0.14,"y":10.2,"e":1},{"s":"F","x":0.145,"y":9.9,"e":1},{"s":"F","x":0.15,"y":9.6,"e":1},{"s":"F","x":0.155,"y":9.3,"e":1},{"s":"F","x":0.16,"y":9.1,"e":1},{"s":"F","x":0.165,"y":8.9,"e":1},{"s":"F","x":0.17,"y":8.8,"e":1},{"s":"F","x":0.175,"y":8.7,"e":1},{"s":"F","x":0.18,"y":8.6,"e":1},{"s":"F","x":0.185,"y":8.5,"e":1},{"s":"F","x":0.19,"y":8.5,"e":1},{"s":"F","x":0.195,"y":8.4,"e":1},{"s":"F","x":0.2,"y":8.4,"e":1},{"s":"F","x":0.205,"y":8.3,"e":1},{"s":"F","x":0.21,"y":8.3,"e":1},{"s":"F","x":0.215,"y":8.3,"e":1},{"s":"F","x":0.22,"y":8.3,"e":1},{"s":"F","x":0.225,"y":8.3,"e":1},{"s":"F","x":0.23,"y":8.3,"e":1},{"s":"F","x":0.235,"y":8.3,"e":1},{"s":"F","x":0.24,"y":8.3,"e":1},{"s":"F","x":0.245,"y":8.3,"e":1},{"s":"F","x":0.25,"y":8.3,"e":1},{"s":"F","x":0.255,"y":8.3,"e":1},{"s":"F","x":0.26,"y":8.3,"e":1},{"s":"F","x":0.265,"y":8.3,"e":1},{"s":"F","x":0.27,"y":8.3,"e":1},{"s":"F","x":0.275,"y":8.3,"e":1},{"s":"F","x":0.28,"y":8.3,"e":1},{"s":"F","x":0.285,"y":8.3,"e":1},{"s":"F","x":0.29,"y":8.3,"e":1},{"s":"F","x":0.295,"y":8.3,"e":1},{"s":"F","x":0.3,"y":8.3,"e":1},{"s":"F","x":0.305,"y":8.2,"e":1},{"s":"F","x":0.31,"y":8.2,"e":1},{"s":"F","x":0.315,"y":8.2,"e":1},{"s":"F","x":0.32,"y":8.2,"e":1},{"s":"F","x":0.325,"y":8.2,"e":1},{"s":"F","x":0.33,"y":8.2,"e":1},{"s":"F","x":0.335,"y":8.2,"e":1},{"s":"F","x":0.34,"y":8.2,"e":1},{"s":"F","x":0.345,"y":8.2,"e":1},{"s":"F","x":0.35,"y":8.2,"e":1},{"s":"F","x":0.355,"y":8.2,"e":1},{"s":"F","x":0.36,"y":8.2,"e":1},{"s":"F","x":0.365,"y":8.2,"e":1},{"s":"F","x":0.37,"y":8.2,"e":1},{"s":"F","x":0.375,"y":8.2,"e":1},{"s":"F","x":0.38,"y":8.2,"e":1},{"s":"F","x":0.385,"y":8.2,"e":1},{"s":"F","x":0.39,"y":8.2,"e":1},{"s":"F","x":0.395,"y":8.2,"e":1},{"s":"F","x":0.4,"y":8.2,"e":1},
{"s":"S","x":0,"y":100,"e":0},{"s":"S","x":0.005,"y":95,"e":0.8},{"s":"S","x":0.01,"y":88.5,"e":1},{"s":"S","x":0.015,"y":81.5,"e":1.1},{"s":"S","x":0.02,"y":75,"e":1.1},{"s":"S","x":0.025,"y":68.2,"e":1.1},{"s":"S","x":0.03,"y":61.5,"e":1.1},{"s":"S","x":0.035,"y":55.3,"e":1.1},{"s":"S","x":0.04,"y":50,"e":1.1},{"s":"S","x":0.045,"y":45.2,"e":1.1},{"s":"S","x":0.05,"y":40.8,"e":1.1},{"s":"S","x":0.055,"y":36.8,"e":1.1},{"s":"S","x":0.06,"y":33.3,"e":1.1},{"s":"S","x":0.065,"y":30.2,"e":1.1},{"s":"S","x":0.07,"y":27.3,"e":1.1},{"s":"S","x":0.075,"y":24.8,"e":1},{"s":"S","x":0.08,"y":22.5,"e":1},{"s":"S","x":0.085,"y":20.5,"e":1},{"s":"S","x":0.09,"y":18.8,"e":1},{"s":"S","x":0.095,"y":17.3,"e":1},{"s":"S","x":0.1,"y":16.1,"e":1},{"s":"S","x":0.105,"y":15.1,"e":1},{"s":"S","x":0.11,"y":14.3,"e":1},{"s":"S","x":0.115,"y":13.6,"e":1},{"s":"S","x":0.12,"y":13.1,"e":1},{"s":"S","x":0.125,"y":12.6,"e":1},{"s":"S","x":0.13,"y":12.3,"e":1},{"s":"S","x":0.135,"y":12,"e":1},{"s":"S","x":0.14,"y":11.8,"e":1},{"s":"S","x":0.145,"y":11.6,"e":1},{"s":"S","x":0.15,"y":11.4,"e":1},{"s":"S","x":0.155,"y":11.3,"e":0.9},{"s":"S","x":0.16,"y":11.2,"e":0.9},{"s":"S","x":0.165,"y":11.1,"e":0.9},{"s":"S","x":0.17,"y":11.1,"e":0.9},{"s":"S","x":0.175,"y":11,"e":0.9},{"s":"S","x":0.18,"y":11,"e":0.9},{"s":"S","x":0.185,"y":10.9,"e":0.9},{"s":"S","x":0.19,"y":10.9,"e":0.9},{"s":"S","x":0.195,"y":10.9,"e":0.9},{"s":"S","x":0.2,"y":10.9,"e":0.9},{"s":"S","x":0.205,"y":10.8,"e":0.9},{"s":"S","x":0.21,"y":10.8,"e":0.9},{"s":"S","x":0.215,"y":10.8,"e":0.9},{"s":"S","x":0.22,"y":10.8,"e":0.9},{"s":"S","x":0.225,"y":10.8,"e":0.9},{"s":"S","x":0.23,"y":10.8,"e":0.9},{"s":"S","x":0.235,"y":10.8,"e":0.9},{"s":"S","x":0.24,"y":10.8,"e":0.9},{"s":"S","x":0.245,"y":10.8,"e":0.9},{"s":"S","x":0.25,"y":10.8,"e":0.9},{"s":"S","x":0.255,"y":10.8,"e":0.9},{"s":"S","x":0.26,"y":10.8,"e":0.9},{"s":"S","x":0.265,"y":10.8,"e":0.9},{"s":"S","x":0.27,"y":10.8,"e":0.9},{"s":"S","x":0.275,"y":10.8,"e":0.9},{"s":"S","x":0.28,"y":10.8,"e":0.9},{"s":"S","x":0.285,"y":10.8,"e":0.9},{"s":"S","x":0.29,"y":10.8,"e":0.9},{"s":"S","x":0.295,"y":10.8,"e":0.9},{"s":"S","x":0.3,"y":10.8,"e":0.9},{"s":"S","x":0.305,"y":10.7,"e":0.9},{"s":"S","x":0.31,"y":10.7,"e":0.9},{"s":"S","x":0.315,"y":10.7,"e":0.9},{"s":"S","x":0.32,"y":10.7,"e":0.9},{"s":"S","x":0.325,"y":10.7,"e":0.9},{"s":"S","x":0.33,"y":10.7,"e":0.9},{"s":"S","x":0.335,"y":10.7,"e":0.9},{"s":"S","x":0.34,"y":10.7,"e":0.9},{"s":"S","x":0.345,"y":10.7,"e":0.9},{"s":"S","x":0.35,"y":10.7,"e":0.9},{"s":"S","x":0.355,"y":10.7,"e":0.9},{"s":"S","x":0.36,"y":10.7,"e":0.9},{"s":"S","x":0.365,"y":10.7,"e":0.9},{"s":"S","x":0.37,"y":10.7,"e":0.9},{"s":"S","x":0.375,"y":10.7,"e":0.9},{"s":"S","x":0.38,"y":10.7,"e":0.9},{"s":"S","x":0.385,"y":10.7,"e":0.9},{"s":"S","x":0.39,"y":10.7,"e":0.9},{"s":"S","x":0.395,"y":10.7,"e":0.9},{"s":"S","x":0.4,"y":10.7,"e":0.9}
]
},
"spacing":3,
"resolve":{"scale":{"color":"independent"},"legend":{"color":"independent"}},
"hconcat":[
{"title":{"text":"A","anchor":"start","fontSize":22,"dx":15,"offset":-12},"resolve":{"scale":{"color":"independent"},"legend":{"color":"independent"}},
"vconcat":[{
"width":284,"height":250,
"title":{"text":"Patches","dx":8},
"data":{"name":"A"},
"encoding":{
"x":{"field":"x","type":"quantitative","scale":{"domain":[0,0.4],"nice":false},"axis":null},
"y":{"field":"y","type":"quantitative","scale":{"domain":[20,110],"nice":false},"axis":null},
"color":{"field":"s","type":"nominal","scale":{"domain":["C","D","F","S"],"range":["#0072BD","#D95319","#EDB120","#7E2F8E"]},"legend":{"orient":"top-right","offset":6,"title":null,"symbolType":"M-1.6,0H1.6M0,-0.58V0.58M-0.33,-0.58H0.33M-0.33,0.58H0.33","symbolSize":144,"symbolStrokeWidth":1.3,"labelFontSize":10,"labelColor":"#000000","padding":2,"rowPadding":0,"labelOffset":7,"symbolOffset":4,"strokeColor":"#262626","fillColor":"#ffffff","cornerRadius":0,"labelExpr":"datum.label=='C'?'Control':datum.label=='D'?'Defensive Distillation':datum.label=='F'?'Finetuning':'Sleep'"}}
},
"resolve":{"axis":{"x":"independent","y":"independent"}},
"layer":[
{"transform":[{"filter":"datum.s=='C'"}],"mark":{"type":"errorbar","ticks":{"size":5},"thickness":1},"encoding":{"yError":{"field":"e"},
"x":{"field":"x","type":"quantitative","scale":{"domain":[0,0.4],"nice":false},"axis":{"orient":"bottom","values":[0,0.1,0.2,0.3,0.4],"format":"~g","title":"Eta","labelPadding":9,"titlePadding":4}},
"y":{"field":"y","type":"quantitative","scale":{"domain":[20,110],"nice":false},"axis":{"orient":"left","values":[20,30,40,50,60,70,80,90,100,110],"title":"Accuracy","labelPadding":8,"titlePadding":5}}}},
{"transform":[{"filter":"datum.s=='C'"}],"mark":{"type":"line"}},
{"transform":[{"filter":"datum.s=='D'"}],"mark":{"type":"errorbar","ticks":{"size":5},"thickness":1},"encoding":{"yError":{"field":"e"}}},
{"transform":[{"filter":"datum.s=='D'"}],"mark":{"type":"line"}},
{"transform":[{"filter":"datum.s=='F'"}],"mark":{"type":"errorbar","ticks":{"size":5},"thickness":1},"encoding":{"yError":{"field":"e"}}},
{"transform":[{"filter":"datum.s=='F'"}],"mark":{"type":"line"}},
{"transform":[{"filter":"datum.s=='S'"}],"mark":{"type":"errorbar","ticks":{"size":5},"thickness":1},"encoding":{"yError":{"field":"e"}}},
{"transform":[{"filter":"datum.s=='S'"}],"mark":{"type":"line"},"encoding":{
"x":{"field":"x","type":"quantitative","scale":{"domain":[0,0.4],"nice":false},"axis":{"orient":"top","values":[0,0.1,0.2,0.3,0.4],"labels":false,"domain":false,"title":null}},
"y":{"field":"y","type":"quantitative","scale":{"domain":[20,110],"nice":false},"axis":{"orient":"right","values":[20,30,40,50,60,70,80,90,100,110],"labels":false,"domain":false,"title":null}}}}
]}]},
{"hconcat":[
{"title":{"text":"B","anchor":"start","fontSize":22,"dx":3,"offset":-12},"resolve":{"scale":{"color":"independent"},"legend":{"color":"independent"}},
"vconcat":[{
"width":293,"height":254,
"title":{"text":"MNIST","dx":-19},
"data":{"name":"B"},
"encoding":{
"x":{"field":"x","type":"quantitative","scale":{"domain":[0,0.4],"nice":false},"axis":null},
"y":{"field":"y","type":"quantitative","scale":{"domain":[0,100],"nice":false},"axis":null},
"color":{"field":"s","type":"nominal","scale":{"domain":["C","D","F","S"],"range":["#0072BD","#D95319","#EDB120","#7E2F8E"]},"legend":{"orient":"top-right","offset":6,"title":null,"symbolType":"M-1.6,0H1.6M0,-0.58V0.58M-0.33,-0.58H0.33M-0.33,0.58H0.33","symbolSize":144,"symbolStrokeWidth":1.3,"labelFontSize":10,"labelColor":"#000000","padding":2,"rowPadding":0,"labelOffset":7,"symbolOffset":4,"strokeColor":"#262626","fillColor":"#ffffff","cornerRadius":0,"labelExpr":"datum.label=='C'?'Control':datum.label=='D'?'Defensive Distillation':datum.label=='F'?'Finetuning':'Sleep'"}}
},
"resolve":{"axis":{"x":"independent","y":"independent"}},
"layer":[
{"transform":[{"filter":"datum.s=='C'"}],"mark":{"type":"errorbar","ticks":{"size":4},"thickness":1},"encoding":{"yError":{"field":"e"},
"x":{"field":"x","type":"quantitative","scale":{"domain":[0,0.4],"nice":false},"axis":{"orient":"bottom","values":[0,0.1,0.2,0.3,0.4],"format":"~g","title":"Eta","labelPadding":9,"titlePadding":4}},
"y":{"field":"y","type":"quantitative","scale":{"domain":[0,100],"nice":false},"axis":{"orient":"left","values":[0,10,20,30,40,50,60,70,80,90,100],"title":"Accuracy","labelPadding":8,"titlePadding":5}}}},
{"transform":[{"filter":"datum.s=='C'"}],"mark":{"type":"line"}},
{"transform":[{"filter":"datum.s=='D'"}],"mark":{"type":"errorbar","ticks":{"size":4},"thickness":1},"encoding":{"yError":{"field":"e"}}},
{"transform":[{"filter":"datum.s=='D'"}],"mark":{"type":"line"}},
{"transform":[{"filter":"datum.s=='F'"}],"mark":{"type":"errorbar","ticks":{"size":4},"thickness":1},"encoding":{"yError":{"field":"e"}}},
{"transform":[{"filter":"datum.s=='F'"}],"mark":{"type":"line"}},
{"transform":[{"filter":"datum.s=='S'"}],"mark":{"type":"errorbar","ticks":{"size":4},"thickness":1},"encoding":{"yError":{"field":"e"}}},
{"transform":[{"filter":"datum.s=='S'"}],"mark":{"type":"line"},"encoding":{
"x":{"field":"x","type":"quantitative","scale":{"domain":[0,0.4],"nice":false},"axis":{"orient":"top","values":[0,0.1,0.2,0.3,0.4],"labels":false,"domain":false,"title":null}},
"y":{"field":"y","type":"quantitative","scale":{"domain":[0,100],"nice":false},"axis":{"orient":"right","values":[0,10,20,30,40,50,60,70,80,90,100],"labels":false,"domain":false,"title":null}}}}
]}]},
{"title":{"text":"C","anchor":"start","fontSize":22,"dx":-9,"offset":-12},"resolve":{"scale":{"color":"independent"},"legend":{"color":"independent"}},
"vconcat":[{
"width":286,"height":255,
"title":{"text":"CUB-200","dx":-7},
"data":{"name":"C"},
"encoding":{
"x":{"field":"x","type":"quantitative","scale":{"domain":[0,0.4],"nice":false},"axis":null},
"y":{"field":"y","type":"quantitative","scale":{"domain":[0,100],"nice":false},"axis":null},
"color":{"field":"s","type":"nominal","scale":{"domain":["C","D","F","S"],"range":["#0072BD","#D95319","#EDB120","#7E2F8E"]},"legend":{"orient":"top-right","offset":6,"title":null,"symbolType":"M-1.6,0H1.6M0,-0.58V0.58M-0.33,-0.58H0.33M-0.33,0.58H0.33","symbolSize":144,"symbolStrokeWidth":1.3,"labelFontSize":10,"labelColor":"#000000","padding":2,"rowPadding":0,"labelOffset":7,"symbolOffset":4,"strokeColor":"#262626","fillColor":"#ffffff","cornerRadius":0,"labelExpr":"datum.label=='C'?'Control':datum.label=='D'?'Defensive Distillation':datum.label=='F'?'Finetuning':'Sleep'"}}
},
"resolve":{"axis":{"x":"independent","y":"independent"}},
"layer":[
{"transform":[{"filter":"datum.s=='C'"}],"mark":{"type":"errorbar","ticks":{"size":4},"thickness":1},"encoding":{"yError":{"field":"e"},
"x":{"field":"x","type":"quantitative","scale":{"domain":[0,0.4],"nice":false},"axis":{"orient":"bottom","values":[0,0.1,0.2,0.3,0.4],"format":"~g","title":"Eta","labelPadding":9,"titlePadding":4}},
"y":{"field":"y","type":"quantitative","scale":{"domain":[0,100],"nice":false},"axis":{"orient":"left","values":[0,10,20,30,40,50,60,70,80,90,100],"title":"Accuracy","labelPadding":8,"titlePadding":5}}}},
{"transform":[{"filter":"datum.s=='C'"}],"mark":{"type":"line"}},
{"transform":[{"filter":"datum.s=='D'"}],"mark":{"type":"errorbar","ticks":{"size":4},"thickness":1},"encoding":{"yError":{"field":"e"}}},
{"transform":[{"filter":"datum.s=='D'"}],"mark":{"type":"line"}},
{"transform":[{"filter":"datum.s=='F'"}],"mark":{"type":"errorbar","ticks":{"size":4},"thickness":1},"encoding":{"yError":{"field":"e"}}},
{"transform":[{"filter":"datum.s=='F'"}],"mark":{"type":"line"}},
{"transform":[{"filter":"datum.s=='S'"}],"mark":{"type":"errorbar","ticks":{"size":4},"thickness":1},"encoding":{"yError":{"field":"e"}}},
{"transform":[{"filter":"datum.s=='S'"}],"mark":{"type":"line"},"encoding":{
"x":{"field":"x","type":"quantitative","scale":{"domain":[0,0.4],"nice":false},"axis":{"orient":"top","values":[0,0.1,0.2,0.3,0.4],"labels":false,"domain":false,"title":null}},
"y":{"field":"y","type":"quantitative","scale":{"domain":[0,100],"nice":false},"axis":{"orient":"right","values":[0,10,20,30,40,50,60,70,80,90,100],"labels":false,"domain":false,"title":null}}}}
]}]}
],"spacing":6,"resolve":{"scale":{"color":"independent"},"legend":{"color":"independent"}}}
]
}
